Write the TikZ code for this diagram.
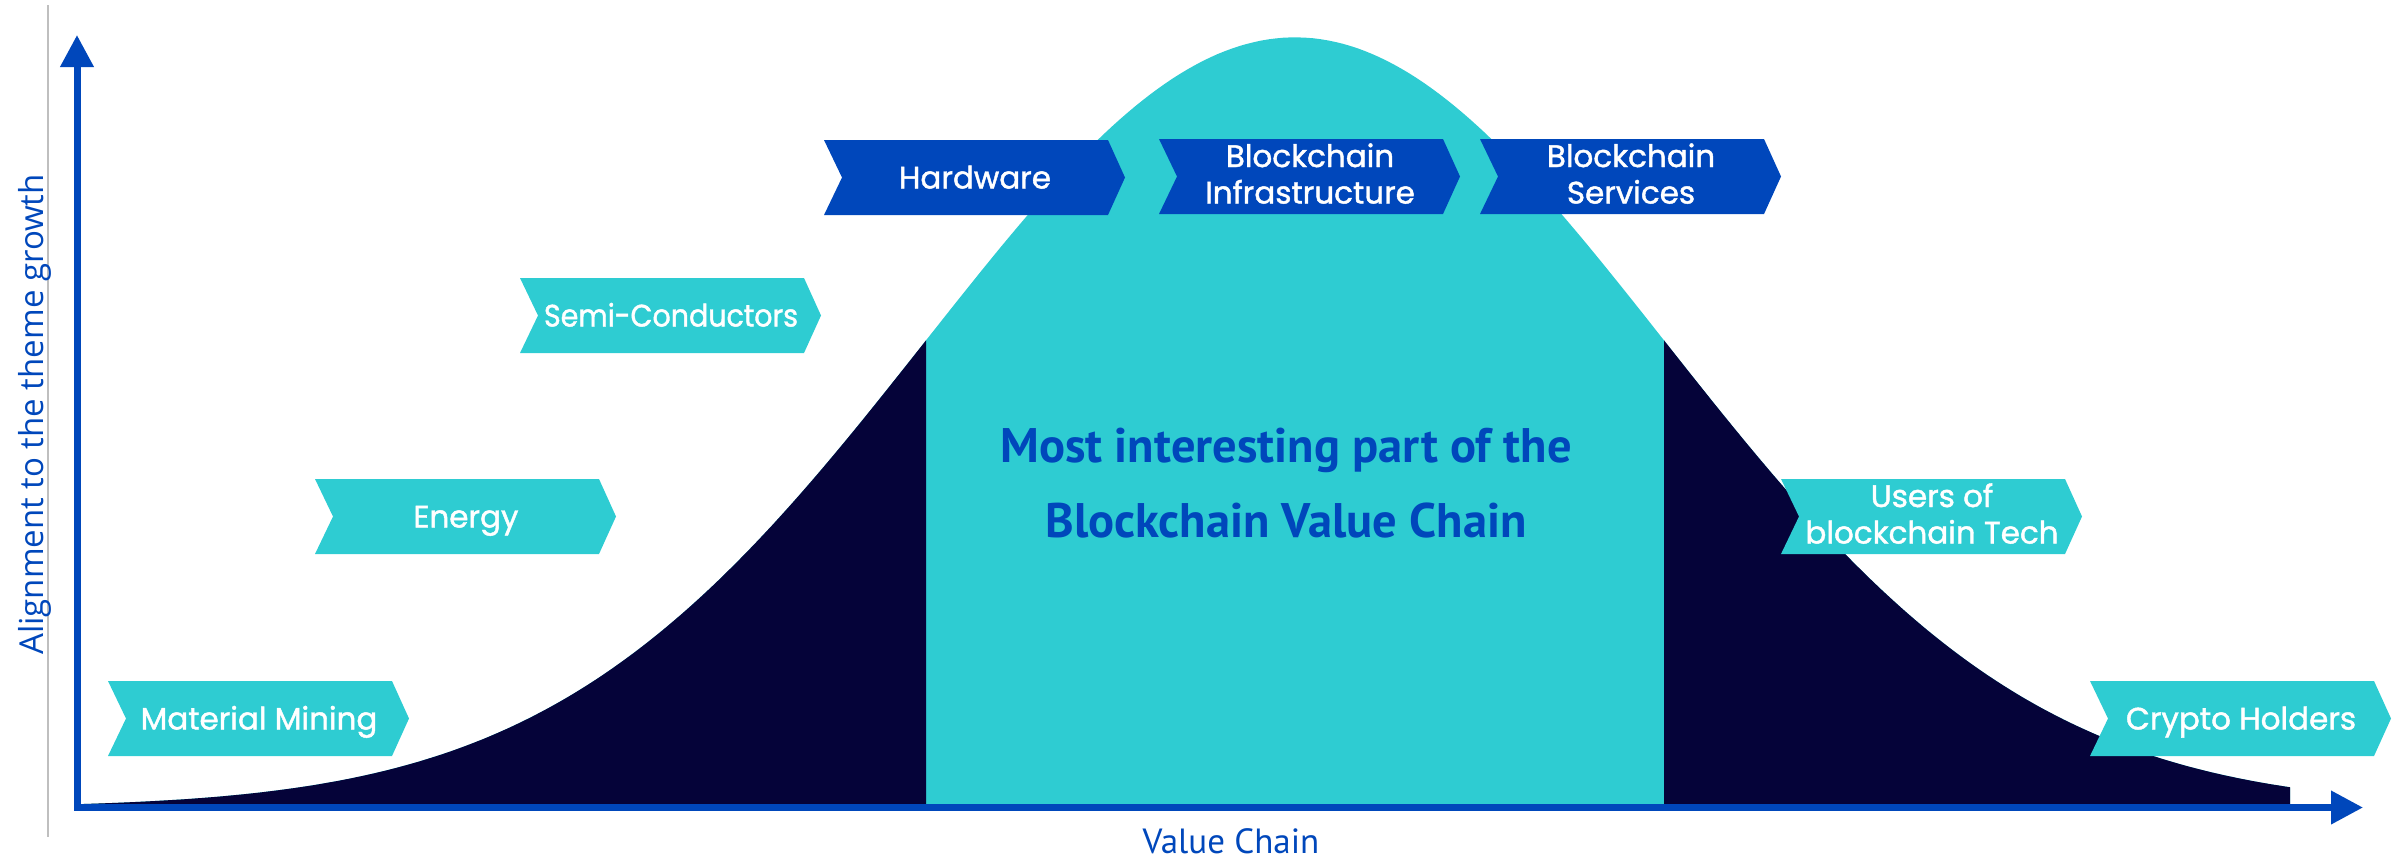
\documentclass[tikz,border=0pt]{standalone}
\usepackage{fontspec}
\usetikzlibrary{arrows.meta}
\newfontfamily\boxfont{Poppins}[FakeBold=1.4]
\newfontfamily\ptsans{PT Sans}
\newfontfamily\ylabfont{Open Sans}
\definecolor{tealc}{HTML}{2ECCD2}
\definecolor{navyc}{HTML}{050339}
\definecolor{bluec}{HTML}{0047BB}
\newcommand{\chevfill}[3]{\fill[#3] (#1,#2) -- ++(284,0) -- ++(17,37.5) -- ++(-17,37.5) -- ++(-284,0) -- ++(18,-37.5) -- cycle;}
\begin{document}
\begin{tikzpicture}[x=1pt,y=-1pt,
  boxtxt/.style={text=white, inner sep=0pt, align=center, font=\boxfont\fontsize{31}{36.5}\selectfont},
  onel/.style={boxtxt, anchor=base},
  twol/.style={boxtxt, anchor=south},
  axis/.style={draw=bluec, line width=7pt, line join=miter, {Triangle[length=32pt,width=32pt]}-{Triangle[length=32pt,width=32pt]}}]
\useasboundingbox (0,0) rectangle (2400,860);
% thin grey rule
\draw[black!25, line width=1.5pt] (48,5) -- (48,837);
% bell curve
\fill[tealc] (77,807.5) -- plot[domain=77:2290,samples=300] (\x,{807.5-770*exp(-0.5*((\x-1295)/369)*((\x-1295)/369))}) -- (2290,807.5) -- cycle;
\fill[navyc] (77,807.5) -- plot[domain=77:926,samples=150] (\x,{807.5-770*exp(-0.5*((\x-1295)/369)*((\x-1295)/369))}) -- (926,807.5) -- cycle;
\fill[navyc] (1664,807.5) -- plot[domain=1664:2290,samples=150] (\x,{807.5-770*exp(-0.5*((\x-1295)/369)*((\x-1295)/369))}) -- (2290,807.5) -- cycle;
% axes
\coordinate (ytip) at (77,35);
\coordinate (orig) at (77,807.5);
\coordinate (xtip) at (2363,807.5);
\draw[axis] (ytip) -- (orig) -- (xtip);
% axis labels
\node[anchor=base, rotate=90, inner sep=0pt, text=bluec, font=\ylabfont\fontsize{33}{40}\selectfont] (ylab) at (43,414.5) {Alignment to the theme growth};
\node[anchor=base, inner sep=0pt, text=bluec, font=\ptsans\fontsize{35}{40}\selectfont] (xlab) at (1231,853) {Value Chain};
% centre text
\node[anchor=south, inner sep=0pt, align=center, text=bluec, font=\ptsans\bfseries\fontsize{48.5}{75}\selectfont] (mid) at (1286,538) {Most interesting part of the\\Blockchain Value Chain};
% chevrons
\chevfill{108}{681}{tealc}
\chevfill{315}{479}{tealc}
\chevfill{520}{278}{tealc}
\chevfill{824}{140}{bluec}
\chevfill{1159}{139}{bluec}
\chevfill{1480}{139}{bluec}
\chevfill{1781}{479}{tealc}
\chevfill{2090}{681}{tealc}
\node[onel] (mat) at (259,729.5) {Material Mining};
\node[onel] (energy) at (466,527.5) {Energy};
\node[onel] (semi) at (671,326.5) {\scalebox{0.92}[1]{Semi-Conductors}};
\node[onel] (hw) at (975,188.5) {Hardware};
\node[twol] (infra) at (1310,204) {Blockchain\\Infrastructure};
\node[twol] (serv) at (1631,204) {Blockchain\\Services};
\node[twol] (users) at (1932,544) {Users of\\blockchain Tech};
\node[onel] (crypto) at (2241,729.5) {Crypto Holders};
\end{tikzpicture}
\end{document}
